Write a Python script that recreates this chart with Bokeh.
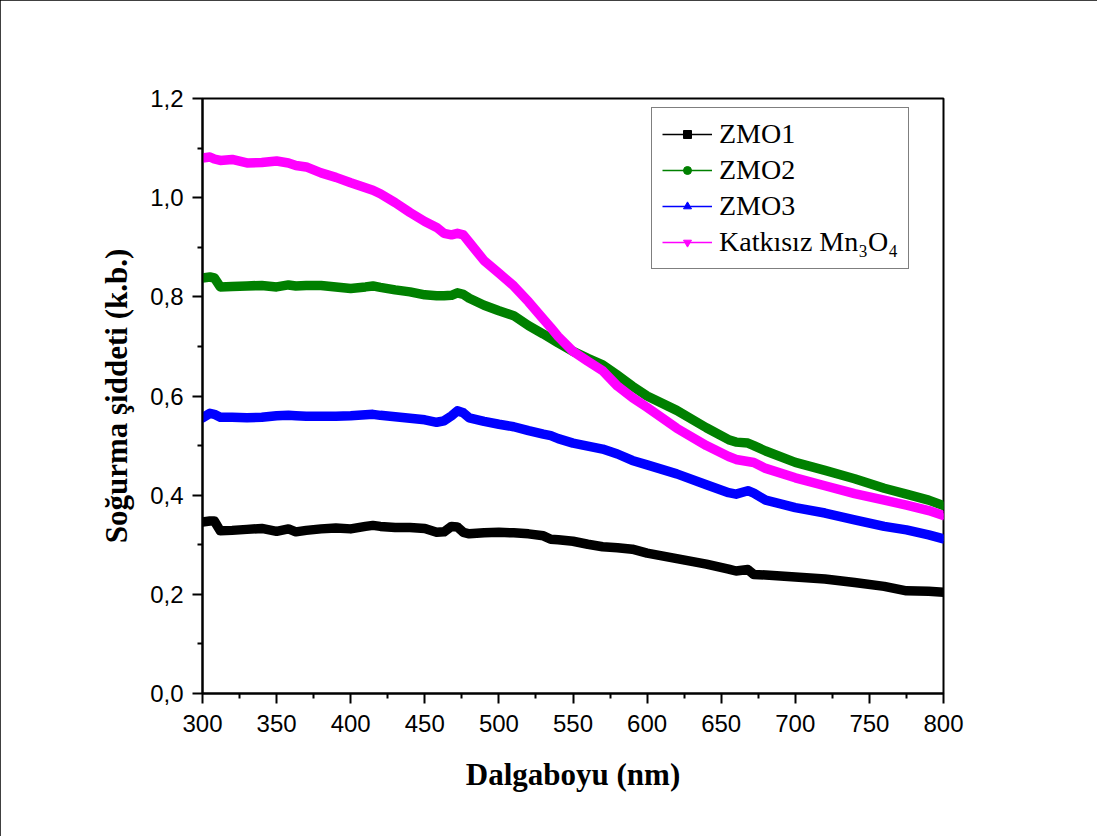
from bokeh.plotting import figure
from bokeh.models import Range1d, FixedTicker, CustomJSTickFormatter, Legend, LegendItem, ColumnDataSource
from bokeh.embed import file_html
from bokeh.resources import INLINE

wavelength = [300, 305, 308, 312, 320, 330, 340, 350, 358, 363, 370, 380, 390, 400, 410, 415, 420,
              430, 440, 450, 458, 463, 468, 472, 476, 480, 490, 500, 510, 520, 530, 535, 540, 550,
              560, 570, 580, 590, 600, 620, 640, 655, 660, 668, 672, 680, 700, 720, 740, 760, 775,
              790, 800]

zmo1 = [0.346, 0.348, 0.348, 0.328, 0.329, 0.331, 0.333, 0.327, 0.332, 0.326, 0.329, 0.332, 0.334,
        0.332, 0.337, 0.339, 0.337, 0.335, 0.335, 0.333, 0.325, 0.326, 0.337, 0.336, 0.325, 0.322,
        0.324, 0.325, 0.324, 0.322, 0.318, 0.311, 0.310, 0.307, 0.301, 0.296, 0.294, 0.291, 0.283,
        0.272, 0.261, 0.251, 0.247, 0.250, 0.240, 0.239, 0.235, 0.231, 0.224, 0.216, 0.207, 0.206,
        0.204]

zmo2 = [0.838, 0.840, 0.838, 0.820, 0.821, 0.822, 0.823, 0.820, 0.824, 0.822, 0.823, 0.823, 0.820,
        0.817, 0.820, 0.822, 0.819, 0.814, 0.810, 0.804, 0.802, 0.802, 0.803, 0.808, 0.805, 0.797,
        0.783, 0.772, 0.762, 0.742, 0.725, 0.716, 0.707, 0.690, 0.676, 0.663, 0.642, 0.620, 0.600,
        0.571, 0.536, 0.512, 0.507, 0.505, 0.500, 0.489, 0.466, 0.450, 0.433, 0.414, 0.402, 0.390,
        0.379]

zmo3 = [0.556, 0.565, 0.563, 0.557, 0.557, 0.556, 0.557, 0.560, 0.561, 0.560, 0.559, 0.559, 0.559,
        0.560, 0.562, 0.563, 0.561, 0.558, 0.555, 0.552, 0.547, 0.550, 0.560, 0.570, 0.566, 0.556,
        0.549, 0.543, 0.538, 0.530, 0.523, 0.520, 0.514, 0.505, 0.499, 0.493, 0.483, 0.470, 0.461,
        0.443, 0.421, 0.405, 0.402, 0.409, 0.404, 0.390, 0.375, 0.364, 0.350, 0.337, 0.330, 0.320,
        0.312]

katkisiz = [1.080, 1.082, 1.078, 1.075, 1.077, 1.070, 1.071, 1.074, 1.070, 1.065, 1.062, 1.050,
            1.041, 1.030, 1.020, 1.015, 1.008, 0.990, 0.970, 0.952, 0.940, 0.928, 0.925, 0.928,
            0.925, 0.910, 0.873, 0.848, 0.822, 0.790, 0.755, 0.738, 0.720, 0.690, 0.670, 0.651,
            0.620, 0.597, 0.577, 0.535, 0.500, 0.478, 0.472, 0.468, 0.466, 0.454, 0.435, 0.419,
            0.403, 0.390, 0.380, 0.369, 0.359]

series_labels = ["ZMO1", "ZMO2", "ZMO3", "Katkısız Mn₃O₄"]
series_values = [zmo1, zmo2, zmo3, katkisiz]
series_colors = ["#000000", "#008000", "#0000FF", "#FF00FF"]
series_markers = ["square", "circle", "triangle", "inverted_triangle"]

x_ticks = [300, 350, 400, 450, 500, 550, 600, 650, 700, 750, 800]
x_minor = [325, 375, 425, 475, 525, 575, 625, 675, 725, 775]
y_ticks = [0.0, 0.2, 0.4, 0.6, 0.8, 1.0, 1.2]
y_minor = [0.1, 0.3, 0.5, 0.7, 0.9, 1.1]

p = figure(width=1097, height=836, x_range=Range1d(300, 800), y_range=Range1d(0, 1.2),
           output_backend="svg", toolbar_location=None,
           min_border_left=202, min_border_right=154, min_border_top=98, min_border_bottom=143)
p.styles = {"outline": "2px solid black", "outline-offset": "-2px"}
p.background_fill_color = "white"
p.border_fill_color = "white"
p.xgrid.visible = False
p.ygrid.visible = False
p.outline_line_color = "black"
p.outline_line_width = 2

for ax in (p.xaxis[0], p.yaxis[0]):
    ax.axis_line_width = 2
    ax.major_tick_line_width = 2
    ax.minor_tick_line_width = 2
    ax.major_tick_in = 0
    ax.major_tick_out = 10
    ax.minor_tick_in = 0
    ax.minor_tick_out = 5
    ax.major_label_text_font = "Liberation Sans"
    ax.major_label_text_font_size = "24px"
    ax.major_label_text_color = "black"
    ax.axis_label_text_font = "Liberation Serif"
    ax.axis_label_text_font_style = "bold"
    ax.axis_label_text_font_size = "31px"
    ax.axis_label_text_color = "black"

p.xaxis.ticker = FixedTicker(ticks=x_ticks, minor_ticks=x_minor)
p.yaxis.ticker = FixedTicker(ticks=y_ticks, minor_ticks=y_minor)
p.yaxis.formatter = CustomJSTickFormatter(code="return tick.toFixed(1).replace('.', ',');")
p.xaxis.axis_label = "Dalgaboyu (nm)"
p.yaxis.axis_label = "Soğurma şiddeti (k.b.)"
p.xaxis.major_label_standoff = 11
p.yaxis.major_label_standoff = 9
p.xaxis.axis_label_standoff = 22
p.yaxis.axis_label_standoff = 13

items = []
for label, vals, color, marker in zip(series_labels, series_values, series_colors, series_markers):
    src = ColumnDataSource(dict(x=wavelength, y=vals))
    thin = p.line("x", "y", source=src, line_color=color, line_width=1.5)
    mk = p.scatter("x", "y", source=src, marker=marker, size=6, fill_color=color, line_color=color)
    p.line("x", "y", source=src, line_color=color, line_width=9.5, line_join="round", line_cap="round")
    items.append(LegendItem(label=label, renderers=[thin, mk]))

legend = Legend(items=items, location=(449, 424))
legend.label_text_font = "Liberation Serif"
legend.label_text_font_size = "28px"
legend.label_text_color = "black"
legend.glyph_width = 50
legend.glyph_height = 20
legend.label_height = 31
legend.label_standoff = 7
legend.spacing = 4
legend.padding = 10
legend.margin = 0
legend.border_line_color = "black"
legend.border_line_width = 1.5
legend.background_fill_color = "white"
legend.background_fill_alpha = 1
p.add_layout(legend)

open("out.html", "w").write(file_html(p, INLINE))
